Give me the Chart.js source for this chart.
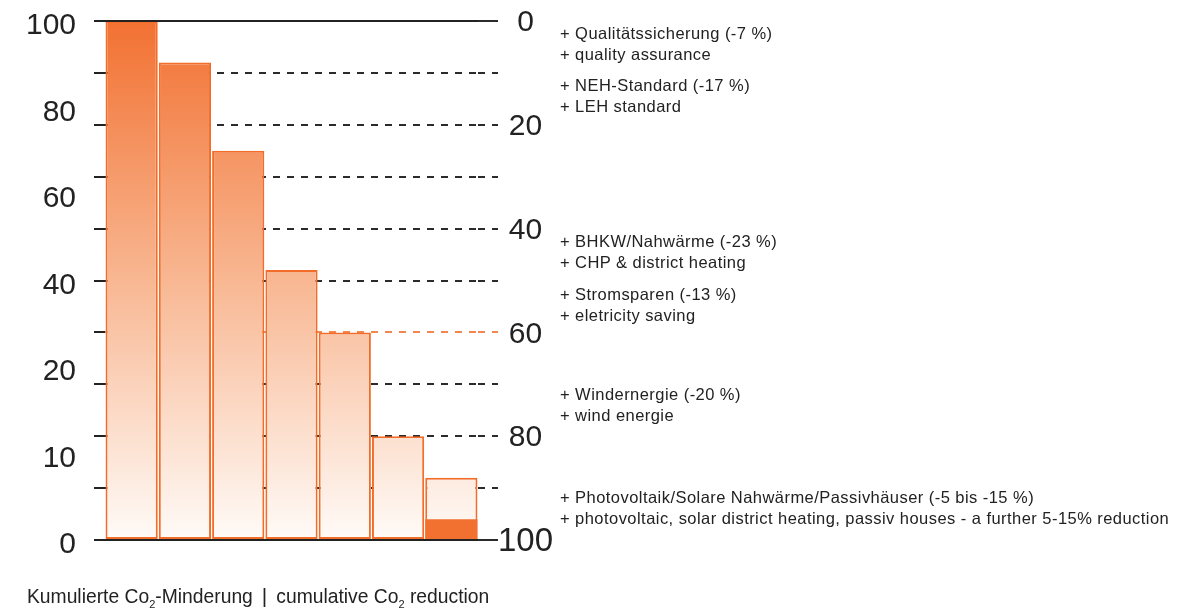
<!DOCTYPE html>
<html>
<head>
<meta charset="utf-8">
<script src="https://cdn.jsdelivr.net/npm/chart.js@4.4.1/dist/chart.umd.min.js"></script>
<style>
  html, body { margin: 0; padding: 0; background: #fff; }
  #wrap { position: relative; width: 1195px; height: 610px; overflow: hidden; }
  #chart { position: absolute; left: 0; top: 0; }
  .note {
    position: absolute; left: 560px;
    font-family: "Liberation Sans", Arial, sans-serif;
    font-size: 16.5px; line-height: 21px; letter-spacing: 0.45px;
    color: #222; white-space: nowrap;
  }
  .caption {
    position: absolute; left: 27px; top: 584px;
    font-family: "Liberation Sans", Arial, sans-serif;
    font-size: 19.3px; line-height: 24px; color: #222; white-space: nowrap;
  }
  .caption sub { font-size: 11px; vertical-align: -5px; line-height: 0; }
  .caption .sep { margin: 0 9px; font-size: 21px; }
</style>
</head>
<body>
<div id="wrap">
  <canvas id="chart" width="1195" height="610"></canvas>
  <div id="notes"></div>
  <div class="caption">Kumulierte Co<sub>2</sub>-Minderung<span class="sep">|</span>cumulative Co<sub>2</sub> reduction</div>
</div>
<script>
// Measures, one bar each (remaining CO2 emissions, %)
const CATEGORIES = [
  'Ausgangswert', 'Qualitätssicherung', 'NEH-Standard', 'BHKW/Nahwärme',
  'Stromsparen', 'Windenergie', 'Photovoltaik/Solare Nahwärme/Passivhäuser'
];
const REMAINING = [100, 92, 75, 52, 40, 20, 12];
// further possible reduction in the last step
const FURTHER = [null, null, null, null, null, null, 4];

// Left axis labels (evenly spaced), right axis shows reduction in %
const LEFT_TICK_LABELS = ['0', '10', '20', '40', '60', '80', '100'];
const RIGHT_LABEL_STEP = 20;

// Side notes: German line, English line
const NOTES = [
  ['+  Qualitätssicherung (-7 %)', '+  quality assurance'],
  ['+  NEH-Standard (-17 %)', '+  LEH standard'],
  ['+  BHKW/Nahwärme (-23 %)', '+  CHP & district heating'],
  ['+  Stromsparen (-13 %)', '+  eletricity saving'],
  ['+  Windernergie (-20 %)', '+  wind energie'],
  ['+  Photovoltaik/Solare Nahwärme/Passivhäuser (-5 bis -15 %)',
   '+  photovoltaic, solar district heating, passiv houses - a further 5-15% reduction']
];

// layout of the note blocks (top edge in px)
const NOTE_TOPS = [23, 75, 231, 284, 384, 487];

const notesEl = document.getElementById('notes');
NOTES.forEach((lines, i) => {
  const d = document.createElement('div');
  d.className = 'note';
  d.style.top = NOTE_TOPS[i] + 'px';
  d.innerHTML = lines.map(t => t.replace(/&/g, '&amp;')).join('<br>');
  notesEl.appendChild(d);
});

const INK = '#222222';
const ORANGE = '#f27130';
const ORANGE_LINE = '#f26d2a';
const FONT_FAMILY = '"Liberation Sans", Arial, sans-serif';
const AXIS_FONT = { family: FONT_FAMILY, size: 30 };

function barGradient(ctx) {
  const chart = ctx.chart;
  const area = chart.chartArea;
  if (!area) return ORANGE;
  const g = chart.ctx.createLinearGradient(0, area.top, 0, area.bottom);
  g.addColorStop(0, '#f27132');
  g.addColorStop(0.5, '#f8b792');
  g.addColorStop(1, '#fffbf8');
  return g;
}

const tickValue = (ctx) => (ctx.tick ? ctx.tick.value : null);

// fixed axis width, no extra vertical room for the end labels
const fixWidth = (w) => (s) => {
  s.width = w;
  s.paddingTop = 0;
  s.paddingBottom = 0;
};

new Chart(document.getElementById('chart'), {
  type: 'bar',
  data: {
    labels: CATEGORIES,
    datasets: [
      {
        data: FURTHER,
        backgroundColor: ORANGE,
        borderWidth: 0,
        grouped: false,
        categoryPercentage: 0.98,
        barPercentage: 1,
        order: 0
      },
      {
        data: REMAINING,
        backgroundColor: barGradient,
        borderColor: ORANGE_LINE,
        borderWidth: 2,
        borderSkipped: false,
        grouped: false,
        categoryPercentage: 0.98,
        barPercentage: 1,
        order: 1
      }
    ]
  },
  options: {
    responsive: false,
    animation: false,
    events: [],
    layout: { padding: { top: 21, bottom: 70, left: 0, right: 0 } },
    plugins: { legend: { display: false }, tooltip: { enabled: false } },
    scales: {
      x: { display: false },
      // tick marks every 10 on the left, plus the solid top and bottom rules
      y: {
        position: 'left', min: 0, max: 100, weight: 0,
        ticks: { stepSize: 10, display: false },
        border: { display: false },
        grid: {
          z: 1,
          drawOnChartArea: true,
          lineWidth: 2,
          tickLength: 11,
          tickWidth: 2,
          tickColor: INK,
          color: (ctx) => {
            const v = tickValue(ctx);
            return (v === 0 || v === 100) ? INK : 'rgba(0,0,0,0)';
          }
        },
        afterFit: fixWidth(11)
      },
      // left labels
      yL: {
        position: 'left', min: 0, max: LEFT_TICK_LABELS.length - 1, weight: 1,
        grid: { display: false, drawTicks: false },
        border: { display: false },
        ticks: {
          stepSize: 1, padding: 18, labelOffset: 5, color: INK, font: AXIS_FONT,
          callback: (v) => LEFT_TICK_LABELS[v]
        },
        afterFit: fixWidth(94)
      },
      // right axis: reduction in %, dashed guide lines
      yR: {
        position: 'right', min: 0, max: 100, reverse: true,
        border: {
          display: false,
          dash: (ctx) => {
            const v = tickValue(ctx);
            return (v === 0 || v === 100) ? [] : [7, 7];
          }
        },
        grid: {
          drawOnChartArea: true,
          lineWidth: 2,
          tickLength: 20,
          tickWidth: 2,
          color: (ctx) => (tickValue(ctx) === 60 ? '#f2874f' : '#2b2b2b'),
          tickColor: (ctx) => (tickValue(ctx) === 60 ? '#f2874f' : '#2b2b2b'),
          tickBorderDash: (ctx) => {
            const v = tickValue(ctx);
            return (v === 0 || v === 100) ? [] : [7, 7];
          }
        },
        ticks: {
          stepSize: 10, padding: 0, crossAlign: 'center', labelOffset: 2,
          color: INK,
          font: (ctx) => ({ family: FONT_FAMILY, size: tickValue(ctx) === 100 ? 33 : 30 }),
          callback: (v) => (v % RIGHT_LABEL_STEP === 0 ? String(v) : '')
        },
        afterFit: fixWidth(717)
      }
    }
  }
});
</script>
</body>
</html>
